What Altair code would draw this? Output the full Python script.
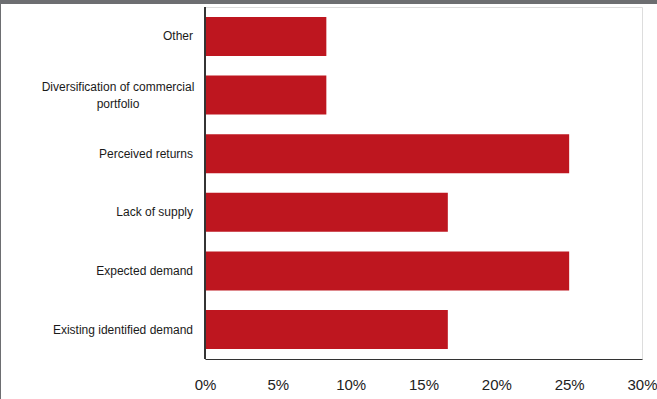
import altair as alt
import pandas as pd

categories = ["Other", "Diversification of commercial\nportfolio", "Perceived returns",
              "Lack of supply", "Expected demand", "Existing identified demand"]
values = [8.33, 8.33, 25.0, 16.67, 25.0, 16.67]
x_ticks = [0, 5, 10, 15, 20, 25, 30]

df = pd.DataFrame({"cat": categories, "val": values,
                   "multi": [("\n" in c) for c in categories]})

FONT = "Liberation Sans"

y_enc = alt.Y("cat:N", sort=categories, axis=None,
              scale=alt.Scale(paddingInner=0.335, paddingOuter=0.17))

bars = alt.Chart(df).mark_bar(color="#BE161F").encode(
    x=alt.X("val:Q", scale=alt.Scale(domain=[0, 30]),
            axis=alt.Axis(values=x_ticks, labelExpr="datum.value + '%'", title=None,
                          grid=False, ticks=False, domainColor="#333333", domainWidth=1,
                          labelFont=FONT, labelFontSize=15, labelColor="#222222",
                          labelPadding=18, labelFlush=False, labelOverlap=False,
                          labelBound=False)),
    y=y_enc,
)

yline = alt.Chart(df).mark_rule(color="#333333", strokeWidth=1).encode(
    x=alt.value(0), y=alt.value(0), y2=alt.value(352))

labels_single = alt.Chart(df).transform_filter("!datum.multi").mark_text(
    align="right", baseline="middle", font=FONT, fontSize=12, color="#1a1a1a", dx=-12
).encode(y=y_enc, x=alt.value(0), text="cat:N")

labels_multi = alt.Chart(df).transform_filter("datum.multi").mark_text(
    align="center", baseline="middle", font=FONT, fontSize=12, color="#1a1a1a",
    lineBreak="\n", lineHeight=17, dx=-87, dy=-8.5
).encode(y=y_enc, x=alt.value(0), text="cat:N")

topband = alt.Chart(df).mark_rect(color="#6D6E71").encode(
    x=alt.value(-205), x2=alt.value(452), y=alt.value(-7), y2=alt.value(-3))
leftline = alt.Chart(df).mark_rule(color="#6D6E71", strokeWidth=1).encode(
    x=alt.value(-204.5), y=alt.value(-7), y2=alt.value(392))

chart = alt.layer(bars, yline, labels_single, labels_multi, topband, leftline).properties(
    width=437, height=352,
    padding={"left": 205, "top": 7, "right": 15, "bottom": 40},
    autosize=alt.AutoSizeParams(type="none"),
).configure_view(stroke=None).configure(background="white")

chart.save("out.html", embed_options={"renderer": "svg", "actions": False})
